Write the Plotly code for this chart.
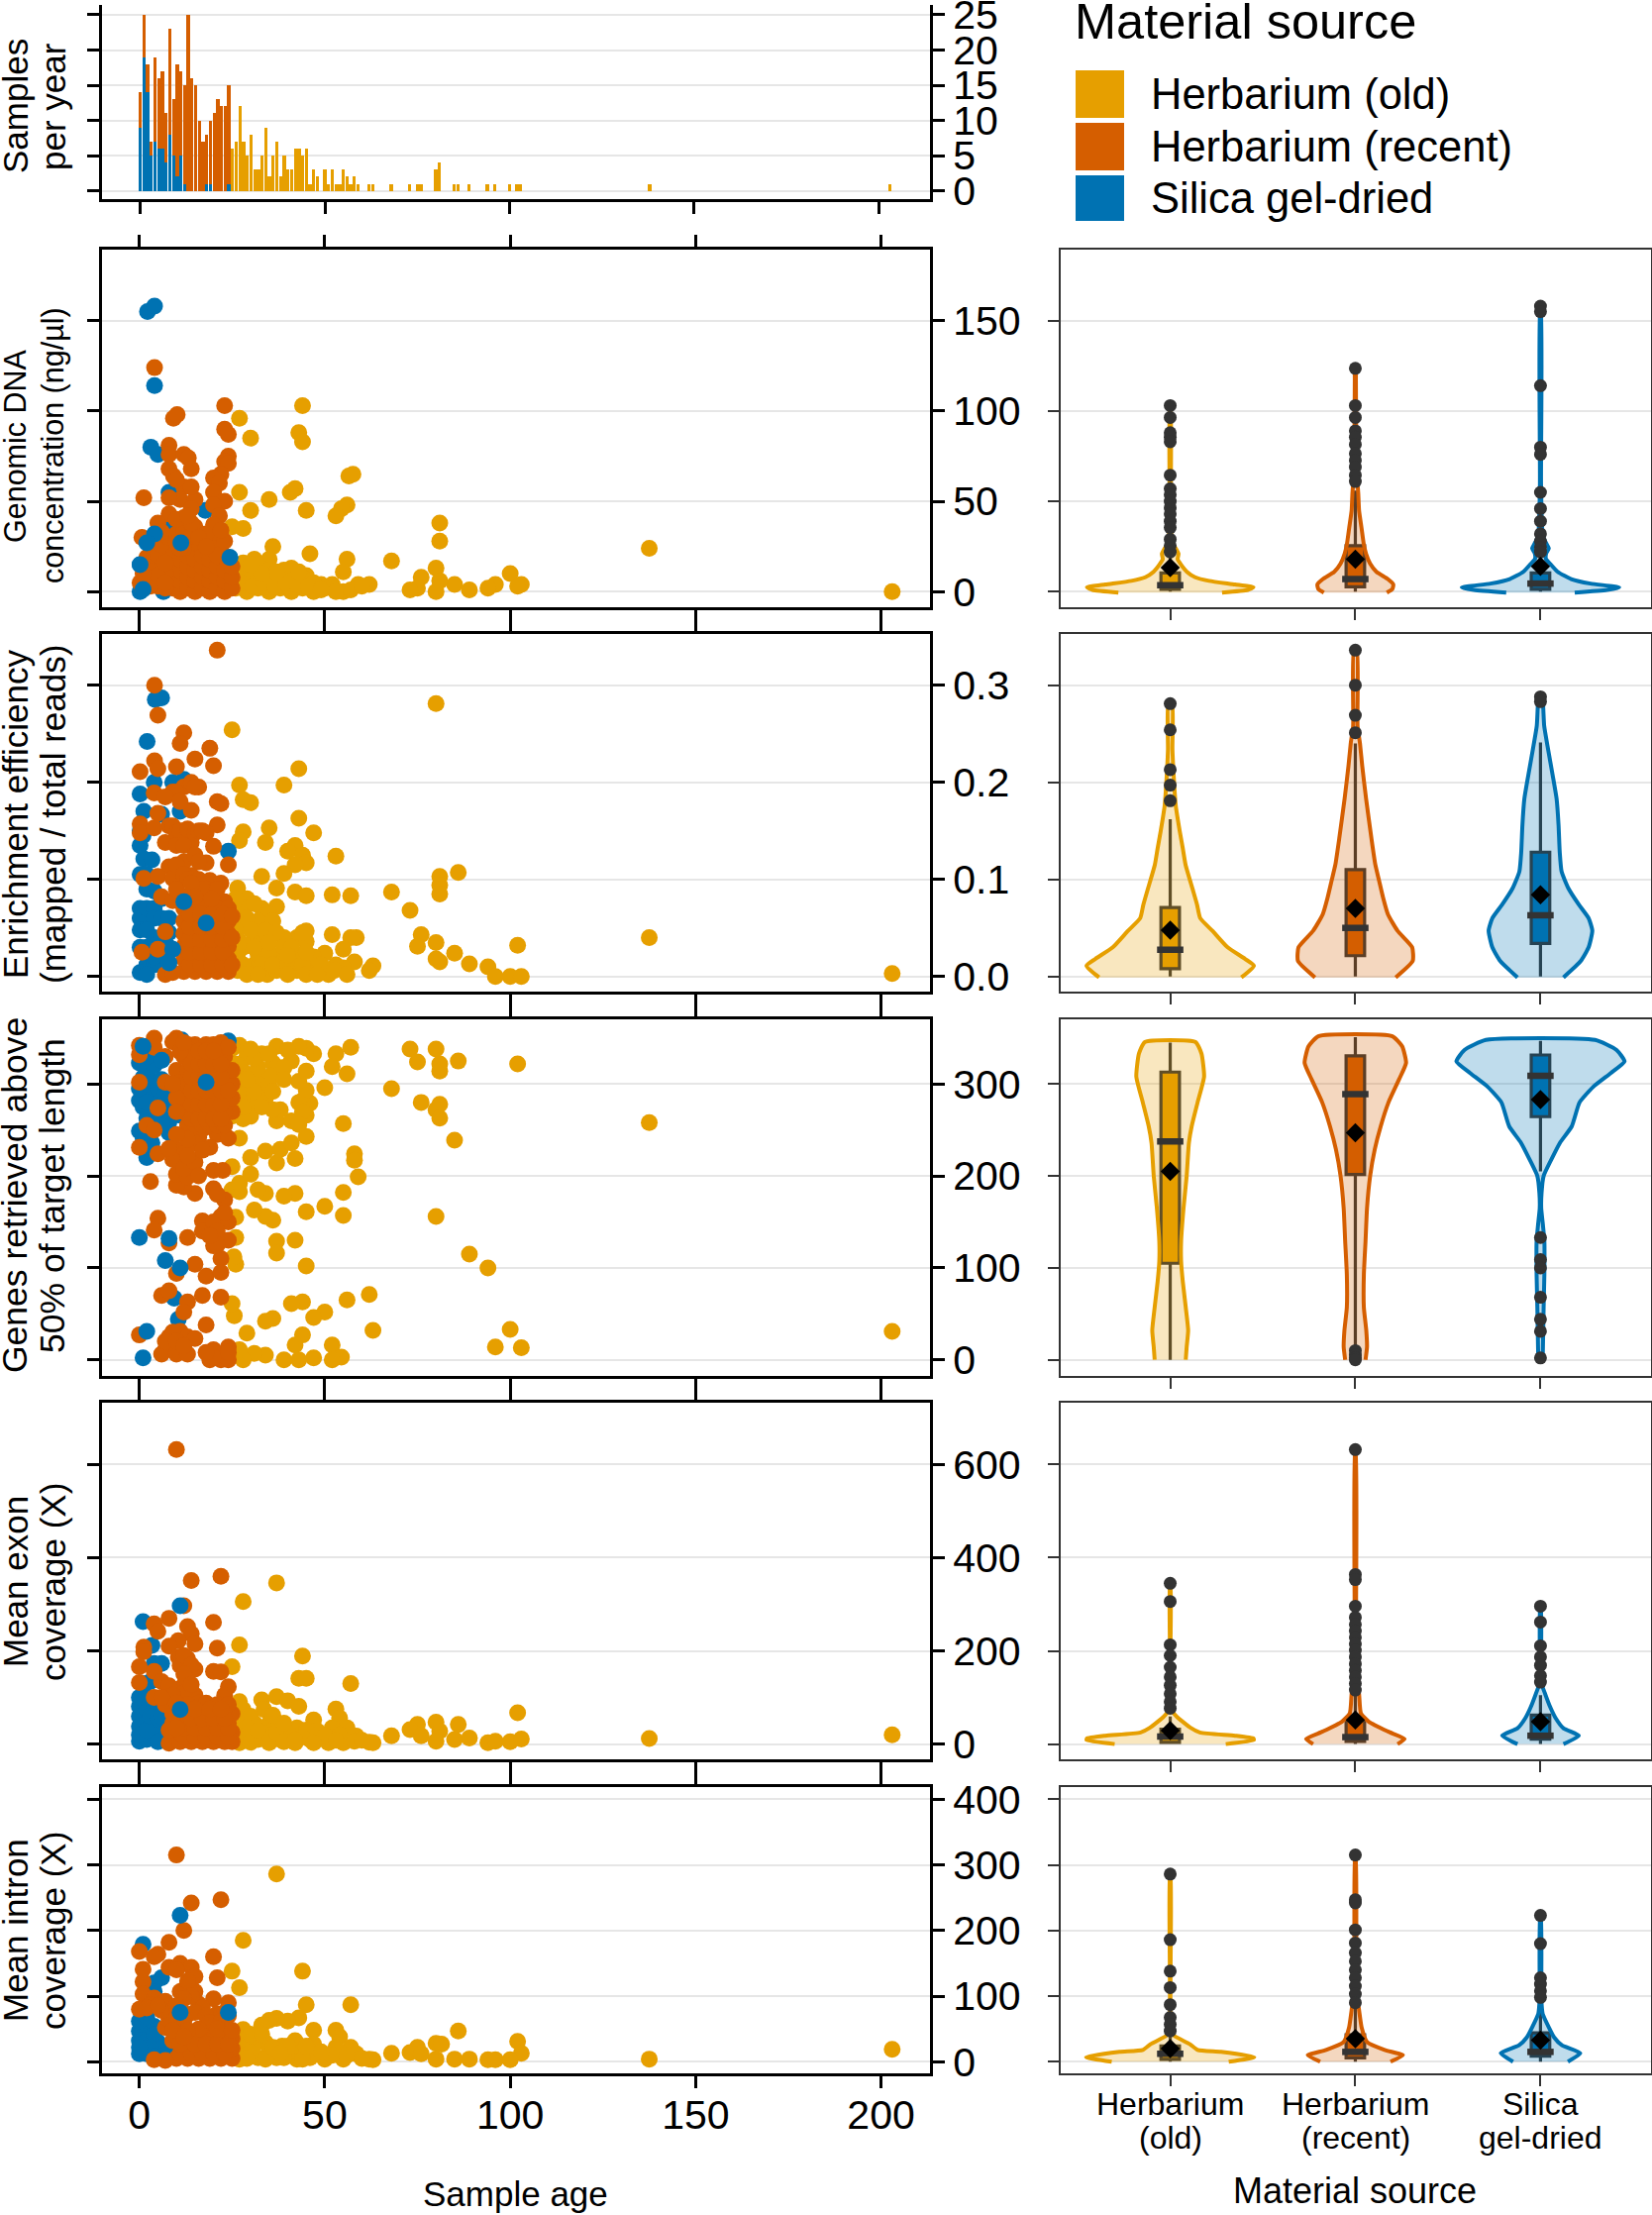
"""Sample age and material source versus DNA and sequencing metrics."""
import plotly.graph_objects as go

W, H = 1668, 2236
OLD, RECENT, SILICA = "#E69F00", "#D55E00", "#0072B2"
FILLS = {OLD: "rgba(230,159,0,0.25)", RECENT: "rgba(213,94,0,0.25)", SILICA: "rgba(0,114,178,0.25)"}
DARK = "#333333"
GRID = "#e6e6e6"
FONT = "Liberation Sans"

# ---- samples per year -------------------------------------------------------
BAR_AGES = list(range(0, 104)) + [138, 203]
BAR_SILICA = [9, 19, 14, 5, 7, 6, 6, 4, 8, 5, 2, 5, 1, 0, 0, 0, 0, 0, 1, 1, 0, 0, 0, 0, 1] + [0] * 81
BAR_RECENT = [5, 6, 4, 2, 12, 10, 11, 7, 15, 8, 16, 12, 14, 25, 16, 15, 10, 7, 7, 9, 11, 13, 12, 12, 14] + [0] * 81
BAR_OLD = [0] * 25 + [
    6, 7, 12, 7, 5, 8, 3, 3, 5, 9, 2, 5, 7, 2, 5, 3, 3, 6, 6, 5, 6, 1, 3, 2, 0,
    3, 1, 3, 1, 1, 3, 2, 1, 2, 1, 0, 0, 1, 1, 0, 0, 0, 0, 1, 0, 0, 0, 0, 1, 0,
    1, 1, 0, 0, 0, 3, 4, 0, 0, 0, 1, 1, 0, 0, 1, 0, 0, 0, 0, 1, 0, 1, 0, 0, 0, 1, 0, 1, 1, 1, 1]

# ---- scatter points: (age, value) -------------------------------------------
DNA_OLD = [(137.5, 24), (203, 0), (44, 103), (27, 96), (30, 85), (43, 88), (44, 83), (57.6, 65), (56.5, 64), (27, 55),
           (42, 57), (40.7, 55), (35, 51), (56, 48), (54.5, 46), (53, 42), (30, 45), (45, 45), (25, 36), (28, 35),
           (81, 38), (81, 28), (36, 25), (46, 21), (56, 18), (68, 17), (55, 11), (35, 18), (31, 18), (80, 13), (76, 8),
           (100, 10), (103, 4), (102, 3), (96, 4), (94, 2), (89, 1), (85, 4), (81, 6), (80, 0), (75, 2), (73, 1),
           (62, 4), (59, 4), (55, 0), (52, 4), (49, 4), (45, 9), (41, 13), (39, 12),
           (26, 2), (26, 8), (26, 14), (29, 0), (29, 6), (29, 12), (32, 2), (32, 8), (32, 15), (35, 0), (35, 6),
           (35, 12), (38, 2), (38, 8), (41, 0), (41, 6), (44, 2), (44, 8), (47, 0), (47, 5), (50, 2), (53, 0),
           (27.5, 5), (30.5, 3), (33.5, 5), (36.5, 3), (39.5, 5), (42.5, 4), (45.5, 3), (49, 1), (37, 11), (43, 11),
           (57, 1), (60, 3), (33, 10), (28, 16), (30, 15)]
DNA_SILICA = [(2.2, 155), (4.1, 158), (4.1, 114), (3.1, 80), (5, 76), (8, 55), (17.8, 45), (24.4, 19), (0.2, 15),
              (6.5, 10), (6.5, 0), (0.2, 0), (7.8, 35)]
DNA_RECENT = [(4.1, 124), (9.2, 96), (10.2, 98), (23, 103), (23, 90), (24, 87), (8, 81), (8, 76), (12, 76), (13.2, 74),
              (14, 68), (8, 68), (9.2, 64), (24, 75), (23, 72), (24, 71), (22, 65), (20, 63), (21.6, 60), (20, 55),
              (12, 58), (1.2, 52), (11, 51), (15, 51), (14, 46), (23, 50), (20, 48), (21.6, 42), (20, 37), (8, 43),
              (5, 38), (12, 41), (15, 36), (0.7, 30), (17, 29), (21, 28), (3.8, 24), (9.2, 28), (13.2, 28), (20, 24),
              (23, 20), (2, 19), (7, 23), (5, 14), (0.2, 5), (5, 3), (16, 23), (1, 2), (2, 8), (3, 13), (4, 20),
              (9, 2), (9, 8), (9, 14), (9, 20), (11, 0), (11, 6), (11, 12), (11, 18), (13, 2), (13, 8), (13, 14),
              (13, 20), (15, 0), (15, 6), (15, 12), (15, 18), (17, 2), (17, 8), (17, 14), (17, 20), (19, 0), (19, 6),
              (19, 12), (19, 18), (21, 2), (21, 8), (21, 14), (21, 20), (23, 0), (23, 6), (23, 12), (25, 2), (25, 8),
              (25, 14), (7, 2), (7, 10), (5, 20), (6, 26), (8, 30), (10, 32), (12, 34), (14, 31), (18, 32), (12, 24),
              (16, 30), (14, 38), (10, 40), (6, 33), (11, 24), (13, 42), (3, 3), (5, 9), (7, 16), (10, 27), (18, 25),
              (23, 28), (22, 34), (8, 52), (14, 58), (10, 62), (7, 5), (1, 10)]
DNA_TOP = [(24.4, 19), (11.2, 27), (4.1, 32), (2, 27), (0.2, 15), (1, 1.3)]

EFF_OLD = [(137.5, 0.04), (203, 0.003), (25, 0.254), (80, 0.281), (43, 0.214), (27, 0.197), (39, 0.197), (28, 0.182),
           (30, 0.179), (43, 0.163), (35, 0.153), (47, 0.148), (28, 0.149), (27, 0.14), (34, 0.138), (53, 0.124),
           (42, 0.135), (40, 0.129), (44, 0.125), (45, 0.117), (42, 0.115), (86, 0.107), (81, 0.103), (81, 0.094),
           (81, 0.085), (33, 0.103), (39, 0.106), (37, 0.091), (42, 0.087), (45, 0.083), (52, 0.084), (57, 0.083),
           (68, 0.087), (73, 0.068), (76, 0.043), (75, 0.031), (80, 0.035), (80, 0.018), (81, 0.015), (85, 0.024),
           (89, 0.013), (94, 0.01), (96, 0), (100, 0), (103, 0), (102, 0.032), (63, 0.011), (62, 0.006), (58, 0.015),
           (58.5, 0.04), (57, 0.04), (52, 0.043), (55, 0.028), (50, 0.024), (45, 0.047), (37, 0.072), (26.5, 0.091),
           (29, 0.08), (33, 0.07), (35, 0.064), (28, 0.07), (27, 0.05), (32, 0.057), (36, 0.057), (42.5, 0.04),
           (39, 0.04), (45, 0.036), (33.6, 0.036), (28, 0.03), (38, 0.023), (31, 0.012), (26.5, 0.006), (34.5, 0.002),
           (42.5, 0.006), (47, 0.006), (51, 0.002), (55, 0.009), (42.5, 0.023), (32, 0.023), (26.5, 0.023), (37, 0.006),
           (47, 0.02), (27, 0.036), (31, 0.04), (35, 0.023),
           (29, 0.06), (30, 0.048), (34, 0.047), (37, 0.045), (31, 0.03), (35, 0.035), (39, 0.03), (28, 0.012),
           (33, 0.012), (36, 0.012), (40, 0.012), (44, 0.012), (49, 0.012), (53, 0.012), (29, 0.002), (32, 0.002),
           (40, 0.002), (45, 0.002), (48, 0.002), (52.5, 0.006), (56, 0.002), (41, 0.03), (45, 0.025), (26, 0.065),
           (26, 0.08), (31, 0.075), (40, 0.022), (44, 0.045)]
EFF_SILICA = [(6, 0.287), (4.3, 0.285), (2.1, 0.242), (12, 0.203), (9, 0.2), (4, 0.2), (0.2, 0.188), (1.2, 0.17),
              (11, 0.17), (6, 0.167), (24, 0.129), (0.2, 0.15), (0.2, 0.135), (1.2, 0.121), (3.4, 0.12), (12, 0.077),
              (0.2, 0.07), (0.2, 0.06), (0.2, 0.048), (2, 0.09), (2, 0.07), (4, 0.07), (4, 0.06), (6, 0.06), (2, 0.048),
              (4, 0.04), (2, 0.012), (4, 0.012), (6, 0.08), (6, 0.04), (8, 0.06), (2, 0.105), (1, 0.145), (2, 0.03),
              (0.2, 0.03), (6, 0.022), (8, 0.03), (4, 0.02), (0.2, 0.105), (8, 0.045), (4, 0.088)]
EFF_RECENT = [(21, 0.336), (4.1, 0.30), (5, 0.269), (12, 0.251), (11, 0.24), (19, 0.235), (15, 0.224), (20, 0.217),
              (10, 0.216), (4.1, 0.222), (5, 0.214), (0.2, 0.211), (16, 0.195), (12, 0.195), (9, 0.19), (4, 0.189),
              (21, 0.18), (22, 0.178), (14, 0.171), (5, 0.168), (0.2, 0.157), (21, 0.156), (8, 0.155), (0.2, 0.148),
              (4, 0.153), (12, 0.15), (18, 0.148), (7, 0.138), (20, 0.134), (14, 0.138), (24, 0.115), (18, 0.117),
              (12, 0.118), (8, 0.113), (1.2, 0.101), (5, 0.103), (14, 0.104), (9, 0.101), (19, 0.099), (22, 0.096),
              (6, 0.082), (16, 0.084), (9, 0.078), (23, 0.077), (20, 0.082), (7, 0.046), (0.7, 0.025), (5, 0.028),
              (10, 0.19), (14, 0.2), (7, 0.185), (11, 0.18), (15, 0.195), (9, 0.155), (10, 0.148), (11, 0.15), (13, 0.152),
              (15, 0.148), (16, 0.15), (17, 0.15), (10, 0.135), (12, 0.135), (15, 0.125), (16, 0.118), (10, 0.115),
              (12, 0.105), (13, 0.1), (16, 0.1), (10, 0.09), (18, 0.09),
              (12, 0.005), (15, 0.005), (18, 0.005), (21, 0.005), (24, 0.005), (12, 0.018), (15, 0.018), (18, 0.018),
              (21, 0.018), (24, 0.018), (12, 0.031), (15, 0.031), (18, 0.031), (21, 0.031), (24, 0.031), (12, 0.044),
              (15, 0.044), (18, 0.044), (21, 0.044), (24, 0.044), (12, 0.057), (15, 0.057), (21, 0.057), (24, 0.057),
              (12, 0.07), (15, 0.07), (18, 0.07), (21, 0.07), (24, 0.07), (13, 0.083), (17, 0.09), (21, 0.09),
              (14, 0.096), (7, 0.002), (9, 0.004), (13.5, 0.012), (16.5, 0.012), (19.5, 0.012), (22.5, 0.012),
              (13.5, 0.025), (16.5, 0.025), (19.5, 0.025), (22.5, 0.025), (13.5, 0.038), (16.5, 0.038), (19.5, 0.038),
              (22.5, 0.038), (13.5, 0.051), (16.5, 0.051), (19.5, 0.051), (22.5, 0.051), (13.5, 0.064), (16.5, 0.064),
              (19.5, 0.064), (22.5, 0.064), (15, 0.082), (19.5, 0.08), (25, 0.012), (25, 0.04), (25, 0.062)]
EFF_TOP = [(18, 0.055), (9, 0.028), (8, 0.014), (0.2, 0.004), (2, 0.002), (12, 0.077)]

GEN_OLD = [(137.5, 258), (203, 31), (102, 322), (86, 325), (80, 338), (73, 338), (75, 324), (81, 322), (81, 314),
           (68, 295), (57, 340), (53, 333), (52, 319), (56, 311), (50, 296), (76, 280), (81, 278), (80, 272), (81, 263),
           (85, 239), (55, 257), (58, 224), (58, 217), (59, 199), (55, 182), (50, 167), (55, 157), (80, 156), (89, 115),
           (94, 100), (45, 161), (42, 130), (37, 129), (37, 116), (45, 102), (62, 71), (56, 65), (63, 32), (100, 33),
           (96, 14), (103, 13), (52, 16), (50, 52), (47, 46), (44, 63), (41, 61), (36, 45), (34, 42), (29, 29),
           (44, 27), (42, 16), (54.5, 3), (52, 0), (47, 2), (43, 0), (39, 0), (34, 5), (31, 7), (28, 0), (27, 11),
           (25.6, 48), (25, 61), (26, 104), (25.5, 112), (26, 133), (26, 155), (36, 152), (34, 156), (31, 163), (42, 181),
           (39, 178), (34, 181), (32, 185), (27, 183), (25, 185), (27, 192), (30, 202), (25, 210), (37, 214), (42, 219),
           (34, 227), (30, 220), (38, 229), (41, 236), (27, 241), (25, 265), (30, 265), (37, 260), (41, 260), (38, 272),
           (45, 266), (46, 279), (44, 282), (45, 293), (43, 303), (45, 314), (47, 333), (45, 339), (43, 341), (37, 341),
           (27, 342), (25, 339), (33, 333), (36, 323), (41, 325), (27.5, 318), (32, 312), (35.4, 309), (29, 296),
           (33, 292), (27.5, 288), (34, 285), (30, 280), (26, 305), (29, 330), (32, 300), (30, 310), (35, 298), (39, 318),
           (26, 272), (28, 262), (36, 272), (43, 280), (44, 270), (45, 243), (43, 256), (32, 318), (31, 328), (35, 333),
           (31, 292), (29, 305), (33, 275), (28, 275), (36, 292), (39, 305), (26, 322), (30, 338), (40, 337)]
GEN_SILICA = [(1, 341), (0, 323), (6, 326), (1, 307), (4, 303), (0, 282), (1, 275), (8, 287), (3.4, 289), (6, 284),
              (11, 266), (8, 259), (8, 247), (2, 263), (0, 249), (1, 241), (3.4, 236), (2, 220), (7, 108), (9.4, 67),
              (10.5, 44), (11.4, 348), (24, 347), (2, 315), (4, 320), (3, 295), (5, 278), (6, 270), (3, 252),
              (0, 295), (2, 300), (2, 330), (6, 305), (7, 275), (9, 275), (5, 295), (6, 255), (2, 280), (4, 265), (7, 290)]
GEN_RECENT = [(23, 174), (20, 186), (15, 181), (12, 188), (10, 190), (3, 194), (5, 154), (4, 141), (8, 127), (13, 133),
              (17, 151), (22, 156), (22, 110), (20, 124), (24, 130), (17, 140), (20, 150), (24, 150), (15, 104), (10, 94),
              (18, 91), (6, 70), (8, 75), (17, 70), (22, 68), (13, 63), (12, 52), (18, 38), (0, 27), (11, 31), (8, 25),
              (13, 25), (15, 23), (7, 11), (6, 6), (10, 6), (13, 6), (20, 11), (22, 0), (19, 0), (24, 14), (24, 0),
              (4, 350), (10, 350), (0, 342), (0, 332), (0, 302), (0, 231), (2, 255), (4, 250), (5, 274), (5, 224),
              (10, 229), (11, 217), (13, 210), (10, 202), (13, 199), (17.5, 252), (16, 242), (21, 245), (24, 241),
              (19, 231), (15, 236), (12, 224), (20, 206), (22.5, 206), (9, 346), (4, 340), (7, 330), (10, 315), (11, 302), (7, 302),
              (13, 255), (15, 255), (17, 255), (19, 255), (21, 255), (23, 255), (25, 270),
              (12, 270), (15, 270), (17, 270), (19, 270), (21, 270), (23, 270),
              (13, 285), (15, 285), (17, 285), (19, 285), (21, 285), (23, 285), (25, 285),
              (12, 300), (15, 300), (17, 300), (19, 300), (21, 300), (23, 300), (25, 300),
              (13, 315), (15, 315), (17, 315), (19, 315), (21, 315), (23, 315), (25, 315),
              (12, 330), (15, 330), (17, 330), (19, 330), (21, 330), (23, 330),
              (13, 343), (15, 343), (18, 343), (20, 343), (22, 345), (24, 340),
              (14, 262), (16, 262), (18, 262), (20, 262), (22, 262), (14, 278), (16, 278), (18, 278), (20, 278), (22, 278),
              (14, 293), (16, 293), (18, 293), (20, 293), (22, 293), (24, 293), (14, 308), (16, 308), (18, 308), (20, 308),
              (22, 308), (14, 322), (16, 322), (18, 322), (20, 322), (22, 322), (14, 336), (16, 336), (18, 336), (20, 336),
              (10, 285), (10, 270), (9, 300), (11, 335), (12, 345), (9, 218), (12, 208), (15, 215), (17, 228), (13, 240),
              (10, 245), (8, 230), (13, 222), (16, 200), (21, 180), (23, 160), (21, 140), (21, 125), (22, 95), (19, 135),
              (9, 30), (7, 20), (10, 20), (12, 15), (20, 3), (24, 8), (18, 8)]
GEN_TOP = [(0, 133), (8, 132), (11, 100), (2, 31), (1, 2), (18, 302), (1, 341), (6, 326)]

EXON_OLD = [(137.5, 12), (203, 20), (37, 346), (28, 306), (27, 213), (44, 189), (43, 141), (45, 141), (57, 130), (25, 166),
            (27, 91), (33, 95), (37, 102), (40, 93), (43, 81), (102, 67), (47, 52), (53, 75), (54, 56), (68, 18), (75, 42),
            (73, 31), (80, 47), (81, 28), (86, 42), (76, 18), (80, 6), (85, 10), (89, 13), (94, 3), (96, 6), (100, 5),
            (103, 11), (62, 4), (63, 3), (58.5, 17), (56, 35), (52, 35), (42.5, 35), (39, 28), (33.6, 74), (28, 74),
            (31, 45), (35, 45), (27, 40), (38, 10), (32, 10), (27, 3), (46, 10), (51, 3), (42, 3), (55, 3), (35, 3),
            (29, 20), (33, 25), (37, 25), (48, 28), (54, 20), (30, 60), (36, 62), (26, 60), (29, 35), (41, 18), (45, 30),
            (50, 18), (30, 4), (58, 6), (32, 30), (26, 22), (39, 5), (44, 15), (53, 8), (60, 8), (39, 45), (42, 8), (47, 3)]
EXON_SILICA = [(1, 263), (3.4, 212), (6, 173), (4, 173), (3, 134), (1, 95), (0, 81), (0, 60), (0, 38), (2, 102), (2, 74),
               (4, 81), (2, 45), (4, 45), (6, 35), (0, 6), (2, 10), (0, 20), (4, 20), (7, 10), (2, 30), (3, 60), (5, 55),
               (0, 100), (6, 60), (1, 130), (8, 30), (9, 15), (5, 5)]
EXON_RECENT = [(10, 632), (22, 360), (14, 351), (12, 297), (8, 270), (20, 261), (4, 258), (5, 242), (13, 252), (14, 237),
               (10.5, 222), (15, 215), (8, 210), (1.2, 208), (1.2, 198), (21, 206), (10.5, 187), (13, 183), (11, 169),
               (15, 161), (0, 166), (4, 156), (20, 156), (22, 155), (0, 132), (12, 127), (6, 134), (24, 123), (23, 105),
               (4, 100), (8, 113), (15, 105), (11, 100), (9, 70), (16, 88), (12, 190), (14, 170), (9, 118), (12, 110),
               (8, 125), (12, 150), (9, 105), (14, 128),
               (8, 2), (11, 5), (14, 5), (17, 5), (20, 5), (23, 5), (25, 5), (11, 25), (14, 25), (17, 25), (20, 25),
               (23, 25), (25, 25), (9, 45), (12, 45), (15, 45), (18, 45), (21, 45), (24, 45), (9, 65), (13, 65), (17, 65),
               (20, 65), (23, 65), (25, 65), (7, 85), (13, 85), (18, 88), (21, 85), (24, 85), (6, 100),
               (12, 15), (15, 15), (18, 15), (21, 15), (24, 15), (12, 35), (15, 35), (18, 35), (21, 35), (24, 35), (11, 55),
               (14, 55), (17, 55), (20, 55), (23, 55), (15, 75), (19, 75), (22, 75), (8, 30), (10, 88), (10, 35)]
EXON_TOP = [(11, 297), (11, 74)]

INT_OLD = [(137.5, 4), (203, 19), (37, 286), (28, 185), (44, 138), (25, 138), (27, 113), (45, 87), (57, 87), (43, 67),
           (40, 62), (37, 66), (35, 63), (33, 56), (28, 49), (47, 48), (53, 48), (54, 38), (86, 47), (102, 31), (103, 13),
           (68, 13), (75, 22), (73, 14), (76, 12), (80, 28), (81.5, 27), (80, 4), (85, 4), (89, 4), (94, 3), (96, 3),
           (100, 3), (63, 3), (62, 4), (58.5, 12), (57, 22), (53, 22), (42, 32), (38.5, 24), (34, 29), (31, 27), (26.5, 22),
           (47, 27), (32, 6), (37, 6), (42.5, 4), (46, 6), (50, 4), (55, 4), (27, 4), (29, 33), (41, 10), (52, 10),
           (30, 14), (35, 15), (39, 6), (44, 15), (49, 15), (56, 10), (60, 5), (27, 36), (30, 42), (29, 5), (34, 4), (44, 4),
           (40, 24), (33, 42), (36, 22), (45, 24), (26, 12), (38, 13)]
INT_SILICA = [(1, 179), (6, 128), (4, 120), (4, 107), (2, 52), (4, 54), (0, 47), (0, 32), (2, 32), (0, 12), (2, 12),
              (7, 22), (4, 42), (0, 62), (2, 68), (5, 30), (3, 22), (6, 8), (1, 80), (0, 22), (4, 8), (8, 12)]
INT_RECENT = [(10, 315), (14, 242), (22, 247), (12, 200), (8, 182), (0, 168), (5, 164), (4, 160), (20, 160), (8, 144),
              (11, 150), (14, 144), (1, 141), (1, 122), (21, 128), (15, 130), (13, 117), (11, 107), (15, 107), (1, 103),
              (4, 97), (20, 96), (24, 90), (0, 80), (16, 88), (7, 92), (9, 75), (13, 72), (21, 73), (23, 52), (19, 47),
              (15, 42), (7, 52), (10, 55), (12, 62), (8, 65), (12, 110), (13, 123), (14, 100), (6, 78), (3, 87), (2, 82),
              (10, 140), (12, 96), (17, 82), (23, 75), (5, 85), (10, 85), (15, 75), (18, 70), (23, 65),
              (10, 5), (13, 5), (16, 5), (19, 5), (22, 5), (25, 5), (7, 2), (4, 3), (13, 20), (16, 20), (19, 20), (22, 20),
              (25, 20), (9, 32), (13, 35), (17, 35), (20, 35), (23, 35), (25, 35), (19, 60), (22, 62), (24, 70),
              (11, 12), (14, 12), (17, 12), (20, 12), (23, 12), (11, 27), (15, 27), (18, 27), (21, 27), (24, 27), (16, 50),
              (13, 48), (21, 50), (25, 48), (9, 48), (12, 38)]
INT_TOP = [(11, 223), (24, 75), (11, 75)]

# ---- violin outlines: (value, half width in category units) -------------------
DNA_OLD_V = [(-0.5, .28), (1, .42), (2.4, .45), (4, .35), (6, .21), (8, .135), (11, .09), (15, .058), (18, .04), (21, .045),
             (24, .03), (27, .012), (40, .003), (103, .002)]
DNA_RECENT_V = [(-0.5, .17), (1.5, .2), (4, .205), (7, .175), (11, .114), (15.5, .08), (21, .058), (26, .046), (35.5, .033),
                (45, .02), (54, .016), (63, .01), (81, .005), (117, .003), (124, .002)]
DNA_SILICA_V = [(-0.5, .185), (1, .36), (2.4, .425), (4.5, .27), (7, .166), (11, .093), (15.5, .052), (18, .03), (21, .03),
                (24, .045), (26, .035), (29, .02), (34, .01), (60, .003), (158, .002)]
EFF_OLD_V = [(-0.001, .384), (.011, .452), (.018, .405), (.03, .31), (.047, .228), (.06, .162), (.074, .145), (.088, .124),
             (.115, .083), (.132, .068), (.149, .052), (.176, .03), (.203, .02), (.234, .012), (.281, .01)]
EFF_RECENT_V = [(-0.001, .218), (.016, .31), (.03, .307), (.047, .228), (.064, .176), (.081, .15), (.098, .129), (.115, .108),
                (.142, .087), (.183, .058), (.217, .037), (.24, .025), (.258, .012), (.336, .008)]
EFF_SILICA_V = [(-0.001, .124), (.016, .218), (.03, .26), (.047, .28), (.06, .26), (.074, .207), (.091, .15), (.108, .114),
                (.128, .104), (.156, .0975), (.183, .087), (.207, .066), (.234, .041), (.258, .02), (.278, .0145), (.29, .008)]
GEN_OLD_V = [(0, .084), (14, .089), (32, .097), (57, .084), (85, .068), (107, .059), (129, .059), (165, .072), (200, .089),
             (236, .101), (254, .116), (280, .148), (308, .183), (333, .169), (345.6, .137)]
GEN_RECENT_V = [(0, .055), (14, .063), (32, .059), (57, .046), (93, .046), (129, .055), (165, .063), (200, .08), (229, .105),
                (254, .137), (280, .179), (305, .236), (323, .274), (341, .253), (352, .2)]
GEN_SILICA_V = [(0, .012), (57, .017), (93, .021), (129, .021), (147, .013), (165, .004), (182, .006), (200, .017), (218, .059),
                (236, .105), (254, .169), (280, .211), (297, .285), (312, .38), (324.5, .454), (337, .411), (348, .295)]
EXON_OLD_V = [(0, .3), (9, .452), (12, .45), (18, .35), (25, .16), (35, .11), (59, .035), (75, .006), (345, .002)]
EXON_RECENT_V = [(0, .228), (11, .266), (27, .176), (48, .073), (66, .03), (108, .02), (137, .008), (200, .003), (632, .002)]
EXON_SILICA_V = [(0, .124), (18, .207), (34, .124), (55, .083), (80, .052), (108, .025), (130, .006), (298, .002)]
INT_OLD_V = [(0, .316), (7, .454), (15, .274), (18, .148), (27, .105), (40, .02), (52, .004), (287, .002)]
INT_RECENT_V = [(0, .19), (10, .257), (18, .158), (30, .063), (52, .034), (83, .018), (103, .006), (315, .002)]
INT_SILICA_V = [(0, .148), (13, .215), (25, .116), (37, .074), (52, .046), (73, .012), (93, .005), (225, .002)]

# ---- box statistics: low whisker, q1, median, q3, high whisker, mean ----------
DNA_BOX = [(0, 1.3, 3.6, 10.4, 19, 13.3), (0, 2.7, 7, 25.5, 56, 18), (0, 1.3, 4.5, 10.4, 19, 14)]
EFF_BOX = [(0, .008, .0275, .071, .162, .0476), (0, .0214, .05, .11, .24, .07), (0, .034, .063, .128, .241, .084)]
GEN_BOX = [(0, 105, 237.5, 313, 345, 205), (0, 201.6, 289, 330.6, 351, 247), (205, 264.5, 309, 331.6, 347, 283)]
EXON_BOX = [(0, 3.5, 16, 32, 59, 29), (0, 6, 15, 52, 108, 52), (0, 10.6, 18, 62, 105, 48)]
INT_BOX = [(0, 3.5, 12, 24, 40, 20), (0, 6, 15, 41, 83, 35), (0, 8.5, 15, 44, 80, 33)]

# ---- outliers ----------------------------------------------------------------
DNA_OUT = [[103, 96.4, 88, 85.5, 83, 64.5, 57, 53.6, 50, 46.4, 43, 39, 35.5, 29, 25.5, 22],
           [123.6, 103, 96.4, 89, 85.5, 81.5, 76.4, 72.7, 69, 64.5, 61],
           [158, 155, 114, 80, 76, 55, 46, 39, 32, 28, 24.5, 22]]
EFF_OUT = [[.281, .254, .213, .197, .181], [.336, .3, .269, .251], [.288, .283]]
GEN_OUT = [[], [10, 5, 2, 0], [133, 109, 100, 68, 44, 31, 2]]
EXON_OUT = [[345, 306, 213, 190, 165, 144, 126, 108, 91, 77],
            [632, 364, 353, 296, 272, 257, 243, 229, 215, 201, 187, 172, 158, 144, 130, 116],
            [296, 262, 211, 187, 169, 147, 133]]
INT_OUT = [[286, 186, 138, 113, 87, 67.5, 57, 47],
           [315, 247, 242, 201, 181, 166, 153, 140, 128, 115, 103, 90],
           [223, 180, 128, 118, 108, 98]]

GROUP_NAMES = ["Herbarium (old)", "Herbarium (recent)", "Silica gel-dried"]
GROUP_LINE1 = ["Herbarium", "Herbarium", "Silica"]
GROUP_LINE2 = ["(old)", "(recent)", "gel-dried"]
GROUP_COLORS = [OLD, RECENT, SILICA]

PANELS = [
    dict(top=252, bottom=613, yrange=[-8.6, 189.3], ticks=[0, 50, 100, 150], labels=None, size=30.5, center=450,
         title=["Genomic DNA", "concentration (ng/µl)"], old=DNA_OLD, sil=DNA_SILICA, rec=DNA_RECENT, up=DNA_TOP,
         violins=[DNA_OLD_V, DNA_RECENT_V, DNA_SILICA_V], box=DNA_BOX, out=DNA_OUT),
    dict(top=640, bottom=1001, yrange=[-0.0156, 0.3527], ticks=[0, .1, .2, .3], labels=["0.0", "0.1", "0.2", "0.3"],
         size=35, center=822,
         title=["Enrichment efficiency", "(mapped / total reads)"], old=EFF_OLD, sil=EFF_SILICA, rec=EFF_RECENT, up=EFF_TOP,
         violins=[EFF_OLD_V, EFF_RECENT_V, EFF_SILICA_V], box=EFF_BOX, out=EFF_OUT),
    dict(top=1029, bottom=1389, yrange=[-17.6, 370.4], ticks=[0, 100, 200, 300], labels=None, size=35.5, center=1207,
         title=["Genes retrieved above", "50% of target length"], old=GEN_OLD, sil=GEN_SILICA, rec=GEN_RECENT, up=GEN_TOP,
         violins=[GEN_OLD_V, GEN_RECENT_V, GEN_SILICA_V], box=GEN_BOX, out=GEN_OUT),
    dict(top=1416, bottom=1776, yrange=[-32.7, 732.7], ticks=[0, 200, 400, 600], labels=None, size=35, center=1597,
         title=["Mean exon", "coverage (X)"], old=EXON_OLD, sil=EXON_SILICA, rec=EXON_RECENT, up=EXON_TOP,
         violins=[EXON_OLD_V, EXON_RECENT_V, EXON_SILICA_V], box=EXON_BOX, out=EXON_OUT),
    dict(top=1804, bottom=2093, yrange=[-17.7, 418.6], ticks=[0, 100, 200, 300, 400], labels=None, size=35, center=1949,
         title=["Mean intron", "coverage (X)"], old=INT_OLD, sil=INT_SILICA, rec=INT_RECENT, up=INT_TOP,
         violins=[INT_OLD_V, INT_RECENT_V, INT_SILICA_V], box=INT_BOX, out=INT_OUT),
]

LEFT_X = [102.5, 939]
RIGHT_X = [1070.5, 1667]
AGE_TICKS = [0, 50, 100, 150, 200]
TICK_SIZE = 41


def dom_x(span):
    return [span[0] / W, span[1] / W]


def dom_y(top, bottom):
    return [1 - bottom / H, 1 - top / H]


def text_at(text, x, y, size, angle=0, anchor="center"):
    return dict(text=text, xref="paper", yref="paper", x=x / W, y=1 - y / H, xanchor=anchor, yanchor="middle",
                textangle=angle, showarrow=False, font=dict(size=size))


def side_title(lines, center, size):
    return [text_at(lines[0], 15, center, size, angle=-90), text_at(lines[1], 53, center, size, angle=-90)]


fig = go.Figure()
layout = dict(
    width=W, height=H, margin=dict(l=0, r=0, t=0, b=0, autoexpand=False), plot_bgcolor="white", paper_bgcolor="white",
    showlegend=False, barmode="stack", bargap=0.12, boxmode="overlay",
    font=dict(family=FONT, color="black", size=TICK_SIZE),
)
annotations = []
shapes = []

# samples per year panel
for values, color in [(BAR_SILICA, SILICA), (BAR_RECENT, RECENT), (BAR_OLD, OLD)]:
    fig.add_trace(go.Bar(x=BAR_AGES, y=values, width=0.88, marker=dict(color=color, line=dict(width=0)),
                         xaxis="x", yaxis="y"))
layout["xaxis"] = dict(domain=dom_x(LEFT_X), range=[-10.5, 213.9], tickvals=AGE_TICKS, showticklabels=False,
                       ticks="outside", ticklen=12, tickwidth=3, tickcolor="black", showline=True, linewidth=3,
                       linecolor="black", showgrid=False, zeroline=False, anchor="y", automargin=False)
layout["yaxis"] = dict(domain=dom_y(5, 201), range=[-1.17, 26.4], tickvals=[0, 5, 10, 15, 20, 25], side="right",
                       ticks="outside", ticklen=12, tickwidth=3, tickcolor="black", showline=True, linewidth=3,
                       linecolor="black", mirror="ticks", showgrid=True, gridcolor=GRID, gridwidth=2, zeroline=False,
                       anchor="x", tickfont=dict(size=TICK_SIZE), automargin=False, ticklabeloverflow="allow")
annotations += side_title(["Samples", "per year"], 107, 35)

for i, p in enumerate(PANELS):
    n_left = 2 * i + 2
    n_right = 2 * i + 3
    xl, yl = f"x{n_left}", f"y{n_left}"
    xr, yr = f"x{n_right}", f"y{n_right}"
    last = i == len(PANELS) - 1

    # scatter against sample age
    for pts, color in [(p["old"], OLD), (p["sil"], SILICA), (p["rec"], RECENT), (p["up"], SILICA)]:
        fig.add_trace(go.Scatter(x=[a for a, _ in pts], y=[v for _, v in pts], mode="markers",
                                 marker=dict(color=color, size=17, line=dict(width=0)), xaxis=xl, yaxis=yl))
    layout[f"xaxis{n_left}"] = dict(domain=dom_x(LEFT_X), range=[-10.2, 213.2], tickvals=AGE_TICKS, showticklabels=last,
                                    ticks="outside", ticklen=12, tickwidth=3, tickcolor="black", showline=True,
                                    linewidth=3, linecolor="black", mirror="ticks", showgrid=False, zeroline=False,
                                    anchor=yl, tickfont=dict(size=TICK_SIZE), automargin=False, ticklabelstandoff=-8)
    layout[f"yaxis{n_left}"] = dict(domain=dom_y(p["top"], p["bottom"]), range=p["yrange"], tickvals=p["ticks"],
                                    ticktext=p["labels"], side="right", ticks="outside", ticklen=12, tickwidth=3,
                                    tickcolor="black", showline=True, linewidth=3, linecolor="black", mirror="ticks",
                                    showgrid=True, gridcolor=GRID, gridwidth=2, zeroline=False, anchor=xl,
                                    tickfont=dict(size=TICK_SIZE), automargin=False)
    annotations += side_title(p["title"], p["center"], p["size"])

    # violins against material source
    for pos, color in enumerate(GROUP_COLORS):
        vals = [v for v, _ in p["violins"][pos]]
        halves = [h for _, h in p["violins"][pos]]
        fig.add_trace(go.Scatter(
            x=[pos + h for h in halves] + [pos - h for h in reversed(halves)], y=vals + vals[::-1],
            mode="lines", fill="toself", fillcolor=FILLS[color],
            line=dict(color=color, width=4, shape="spline", smoothing=0.5), xaxis=xr, yaxis=yr))
        low, q1, med, q3, high, mean = p["box"][pos]
        fig.add_trace(go.Box(x=[pos], lowerfence=[low], q1=[q1], median=[med], q3=[q3], upperfence=[high],
                             width=0.1, whiskerwidth=0, fillcolor=color, line=dict(color=DARK, width=3.2),
                             boxpoints=False, xaxis=xr, yaxis=yr))
        fig.add_trace(go.Scatter(x=[pos], y=[med], mode="markers",
                                 marker=dict(symbol="line-ew", size=19, line=dict(color=DARK, width=6.5)),
                                 xaxis=xr, yaxis=yr))
        out = p["out"][pos]
        fig.add_trace(go.Scatter(x=[pos] * len(out), y=out, mode="markers",
                                 marker=dict(color=DARK, size=13, line=dict(width=0)), xaxis=xr, yaxis=yr))
        fig.add_trace(go.Scatter(x=[pos], y=[mean], mode="markers",
                                 marker=dict(color="black", size=15, symbol="diamond", line=dict(width=0)),
                                 xaxis=xr, yaxis=yr))
    layout[f"xaxis{n_right}"] = dict(domain=dom_x(RIGHT_X), range=[-0.594, 2.597], tickvals=[0, 1, 2],
                                     showticklabels=False, ticks="outside", ticklen=11, tickwidth=2,
                                     tickcolor=DARK, showline=True, linewidth=2, linecolor=DARK, mirror=True,
                                     showgrid=False, zeroline=False, anchor=yr, automargin=False)
    layout[f"yaxis{n_right}"] = dict(domain=dom_y(p["top"], p["bottom"]), range=p["yrange"], tickvals=p["ticks"],
                                     showticklabels=False, ticks="outside", ticklen=11, tickwidth=2, tickcolor=DARK,
                                     showline=True, linewidth=2, linecolor=DARK, mirror=True, showgrid=True,
                                     gridcolor=GRID, gridwidth=2, zeroline=False, anchor=xr, automargin=False)

# category labels under the last violin panel, closer together than plotly's tick line height
for line1, line2, x in zip(GROUP_LINE1, GROUP_LINE2, [1181.6, 1368.5, 1555.3]):
    annotations.append(text_at(line1, x, 2124, 32))
    annotations.append(text_at(line2, x, 2158, 32))

# axis titles under the bottom panels
annotations.append(text_at("Sample age", 520, 2214, 35))
annotations.append(text_at("Material source", 1368, 2211, 36))

# legend
annotations.append(text_at("Material source", 1083, 21, 50.5, anchor="left"))
for name, color, top, bottom in zip(GROUP_NAMES, GROUP_COLORS, [71, 124, 177], [119, 172, 223]):
    shapes.append(dict(type="rect", xref="paper", yref="paper", x0=1086 / W, x1=1135 / W, y0=1 - bottom / H,
                       y1=1 - top / H, fillcolor=color, line=dict(width=0)))
    annotations.append(text_at(name, 1160, (top + bottom) / 2, 43.5, anchor="left"))

layout["annotations"] = annotations
layout["shapes"] = shapes
fig.update_layout(**layout)
# the default page keeps the browser's body margin, which would push the figure off the window
fig.write_html("out.html", config={"displayModeBar": False}, post_script="document.body.style.margin = '0';")
